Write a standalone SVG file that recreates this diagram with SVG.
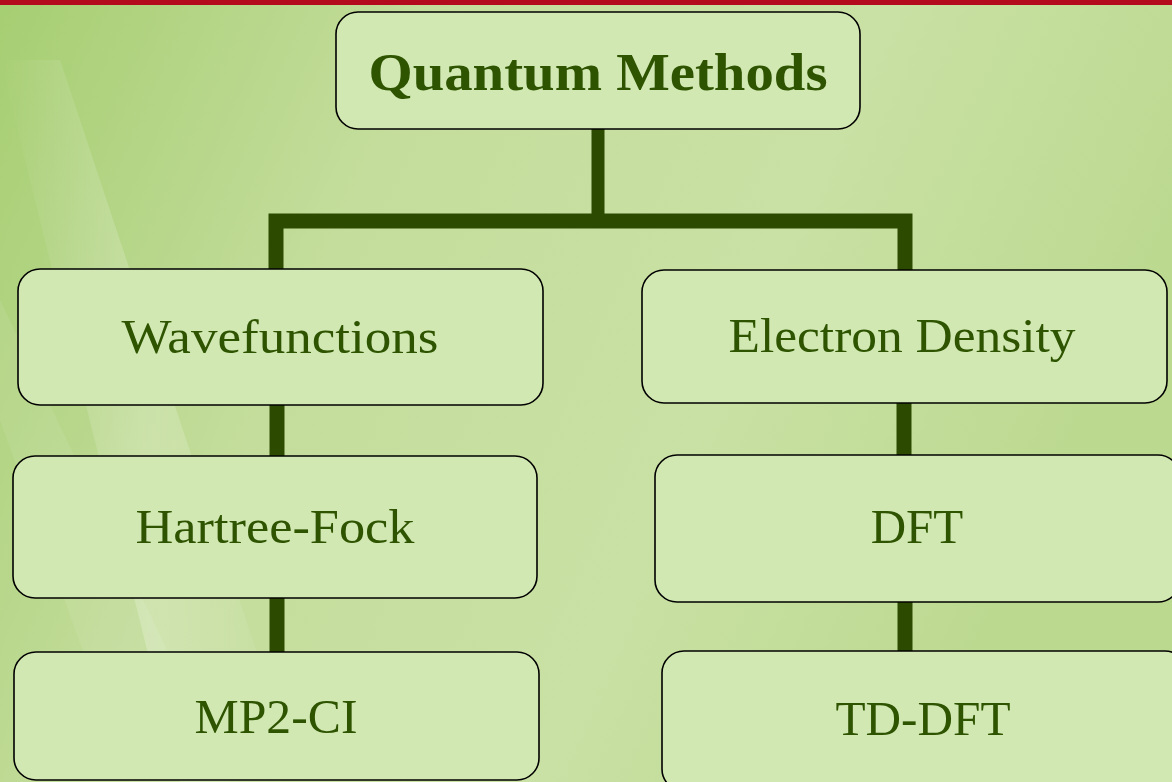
<svg xmlns="http://www.w3.org/2000/svg" width="1172" height="782" viewBox="0 0 1172 782">
  <defs>
    <linearGradient id="bg" x1="0" y1="0" x2="1" y2="0.3">
      <stop offset="0" stop-color="#a6ce72"/>
      <stop offset="0.35" stop-color="#c4dd9c"/>
      <stop offset="0.7" stop-color="#c9e1a4"/>
      <stop offset="1" stop-color="#bcd990"/>
    </linearGradient>
    <linearGradient id="streak" x1="0" y1="0" x2="1" y2="0">
      <stop offset="0" stop-color="#ffffff" stop-opacity="0"/>
      <stop offset="0.5" stop-color="#ffffff" stop-opacity="0.22"/>
      <stop offset="1" stop-color="#ffffff" stop-opacity="0"/>
    </linearGradient>
    <style>
      .node rect { fill: #d1e8b2; stroke: #000000; stroke-width: 1.6; }
      .node text { font-family: "Liberation Serif", "Times New Roman", serif; font-size: 49px; fill: #2e5400; text-anchor: middle; }
      .node text.title { font-weight: bold; font-size: 53px; }
      #connectors path { fill: none; stroke: #2d4b00; stroke-width: 15; stroke-linecap: butt; stroke-linejoin: miter; }
    </style>
  </defs>

  <rect x="0" y="0" width="1172" height="782" fill="url(#bg)"/>
  <polygon points="0,60 60,60 300,782 180,782" fill="url(#streak)"/>
  <polygon points="0,300 0,420 130,782 230,782" fill="#ffffff" opacity="0.08"/>
  <rect x="0" y="0" width="1172" height="5" fill="#b30a1e"/>

  <g id="connectors">
    <path d="M598,129 V221" style="stroke-width:13"/>
    <path d="M276,269 V221 H905 V270"/>
    <path d="M277,405 V456"/>
    <path d="M277,598 V652"/>
    <path d="M904,403 V455"/>
    <path d="M905,602 V651"/>
  </g>

  <g id="node-quantum" class="node">
    <rect x="336" y="12" width="524" height="117" rx="22"/>
    <text class="title" x="598" y="90" textLength="459" lengthAdjust="spacingAndGlyphs">Quantum Methods</text>
  </g>
  <g id="node-wavefunctions" class="node">
    <rect x="18" y="269" width="525" height="136" rx="22"/>
    <text x="280" y="353" textLength="317" lengthAdjust="spacingAndGlyphs">Wavefunctions</text>
  </g>
  <g id="node-electron-density" class="node">
    <rect x="642" y="270" width="525" height="133" rx="22"/>
    <text x="902" y="352" textLength="347" lengthAdjust="spacingAndGlyphs">Electron Density</text>
  </g>
  <g id="node-hartree-fock" class="node">
    <rect x="13" y="456" width="524" height="142" rx="22"/>
    <text x="275" y="543" textLength="279" lengthAdjust="spacingAndGlyphs">Hartree-Fock</text>
  </g>
  <g id="node-dft" class="node">
    <rect x="655" y="455" width="525" height="147" rx="22"/>
    <text x="917" y="543">DFT</text>
  </g>
  <g id="node-mp2ci" class="node">
    <rect x="14" y="652" width="525" height="128" rx="22"/>
    <text x="276" y="733" textLength="163" lengthAdjust="spacingAndGlyphs">MP2-CI</text>
  </g>
  <g id="node-tddft" class="node">
    <rect x="662" y="651" width="525" height="140" rx="22"/>
    <text x="923" y="735" textLength="175" lengthAdjust="spacingAndGlyphs">TD-DFT</text>
  </g>
</svg>
